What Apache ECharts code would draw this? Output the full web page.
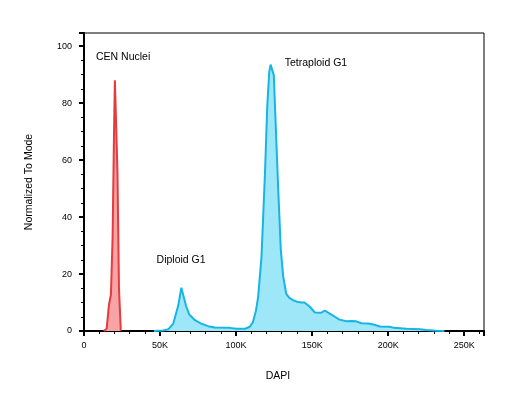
<!DOCTYPE html>
<html>
<head>
<meta charset="utf-8">
<script src="https://cdn.jsdelivr.net/npm/echarts@6/dist/echarts.min.js"></script>
<style>
  html, body { margin: 0; padding: 0; background: #fff; }
  #chart { width: 505px; height: 398px; }
</style>
</head>
<body>
<div id="chart"></div>
<script>
// DAPI channel in thousands, counts normalized to mode
var cenDapi = [13, 14.9, 16.4, 17.7, 18.8, 19.7, 20.3, 21.5, 22.0, 23.0, 24.2];
var cenCount = [0, 0.8, 9.2, 12.7, 32.6, 68, 88, 88, 56, 15, 0];

var sampleDapi = [46, 52, 55.4, 58.7, 62, 64, 65.3, 67, 69.2, 73, 77, 81.7, 86, 96, 100, 106,
	109, 111, 113, 114.5, 116.7, 119, 120.5, 121.8, 122.7, 124, 124.8, 126, 127.7, 129.4, 131,
	133, 135, 137.5, 140, 143, 145, 148.5, 151.8, 156, 158.3, 161.6, 165, 168, 172.6, 176, 179,
	182.4, 187, 191, 194.5, 201, 204, 212, 221, 225, 231.7, 237];
var sampleCount = [0, 0.2, 0.6, 2.6, 9, 15.2, 15.2, 9, 5.8, 3.8, 2.6, 1.7, 1.2, 1.1, 0.8, 0.8,
	1.5, 3, 7, 12, 26, 55.6, 79, 91, 93.5, 94.2, 89.8, 73, 49.7, 28.5, 19,
	13, 11.6, 10.8, 10.3, 10, 10, 8.5, 6.5, 6.4, 7.2, 6.1, 5, 4, 3.4, 3.5, 3.4,
	2.7, 2.6, 2.2, 1.6, 1.5, 1.1, 0.8, 0.6, 0.35, 0.1, 0];

var gateNames = ['CEN Nuclei', 'Diploid G1', 'Tetraploid G1'];
var gateDapi = [7.9, 47.7, 132];
var gateCount = [96, 24.8, 94];

function pairs(xs, ys) {
	return xs.map(function (x, i) { return [x, ys[i]]; });
}

var font = 'Liberation Sans';
var chart = echarts.init(document.getElementById('chart'));
chart.setOption({
	animation: false,
	grid: {
		left: 84, right: 21, top: 33, bottom: 67,
		show: true, borderColor: '#000', borderWidth: 1
	},
	xAxis: {
		type: 'value',
		min: 0, max: 263, interval: 50,
		name: 'DAPI',
		nameLocation: 'middle',
		nameGap: 40,
		nameTextStyle: { fontFamily: font, fontSize: 10.5, color: '#000', padding: [0, 12, 0, 0] },
		axisLine: { lineStyle: { color: '#000', width: 2 } },
		axisTick: { length: 5, lineStyle: { color: '#000', width: 2 } },
		minorTick: { show: true, splitNumber: 5, length: 3, lineStyle: { color: '#000', width: 1 } },
		splitLine: { show: false },
		axisLabel: {
			fontFamily: font, fontSize: 9, color: '#000', margin: 10,
			showMaxLabel: false,
			formatter: function (v) { return v === 0 ? '0' : v + 'K'; }
		}
	},
	yAxis: {
		type: 'value',
		min: 0, max: 104.6, interval: 20,
		name: 'Normalized To Mode',
		nameLocation: 'middle',
		nameGap: 49,
		nameTextStyle: { fontFamily: font, fontSize: 10.5, color: '#000' },
		axisLine: { lineStyle: { color: '#000', width: 2 } },
		axisTick: { length: 5, lineStyle: { color: '#000', width: 2 } },
		minorTick: { show: true, splitNumber: 4, length: 3, lineStyle: { color: '#000', width: 1 } },
		splitLine: { show: false },
		axisLabel: {
			fontFamily: font, fontSize: 9, color: '#000', margin: 12,
			showMaxLabel: false
		}
	},
	series: [
		{
			type: 'line',
			data: pairs(sampleDapi, sampleCount),
			showSymbol: false,
			lineStyle: { color: '#17b5e3', width: 2 },
			areaStyle: { color: '#9ee7f9', opacity: 1, origin: 'start' },
			markPoint: {
				symbolSize: 0,
				label: {
					show: true, position: 'right', distance: 0,
					fontFamily: font, fontSize: 10.5, color: '#000',
					formatter: function (p) { return p.name; }
				},
				data: gateNames.map(function (n, i) {
					return { name: n, coord: [gateDapi[i], gateCount[i]] };
				})
			}
		},
		{
			type: 'line',
			data: pairs(cenDapi, cenCount),
			showSymbol: false,
			lineStyle: { color: '#e63b3e', width: 2 },
			areaStyle: { color: '#f8a3a5', opacity: 1, origin: 'start' }
		}
	]
});
</script>
</body>
</html>
